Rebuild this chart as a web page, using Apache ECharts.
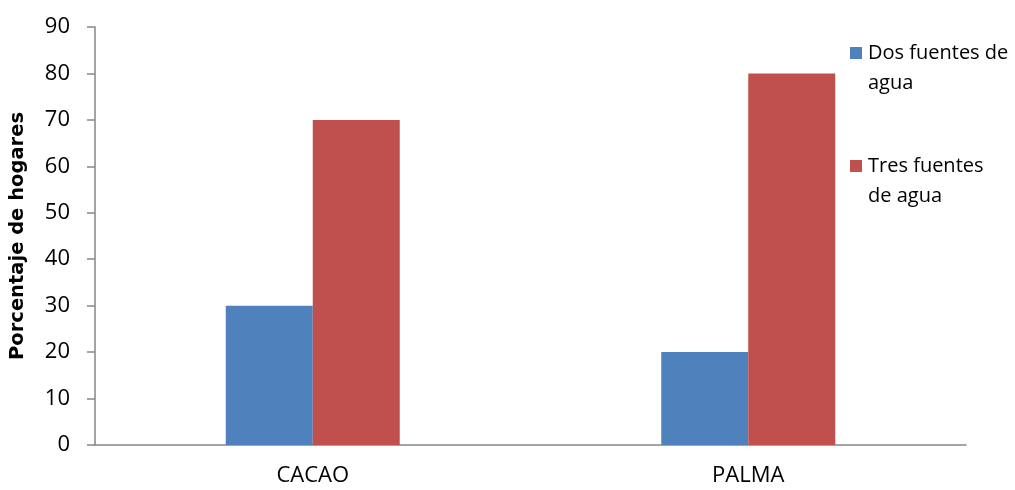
<!DOCTYPE html>
<html><head><meta charset="utf-8">
<script src="https://cdn.jsdelivr.net/npm/echarts@6/dist/echarts.min.js"></script>
<style>html,body{margin:0;padding:0;background:#fff}#c{width:1015px;height:490px}</style>
</head><body><div id="c"></div>
<script>
const categories = ['CACAO', 'PALMA'];
const seriesNames = ['Dos fuentes de agua', 'Tres fuentes de agua'];
const dosFuentes = [30, 20];
const tresFuentes = [70, 80];
const yTicks = [0, 10, 20, 30, 40, 50, 60, 70, 80, 90];

const FONT = 'Open Sans';
const chart = echarts.init(document.getElementById('c'));
const legendText = {
  'Dos fuentes de agua': '{a|}{sp|}{t|Dos fuentes de}\n{pad|}{t|agua}',
  'Tres fuentes de agua': '{b|}{sp|}{t|Tres fuentes}\n{pad|}{t|de agua}'
};
chart.setOption({
  animation: false,
  textStyle: { fontFamily: FONT },
  grid: { left: 95, right: 49, top: 27, bottom: 45, containLabel: false, outerBoundsMode: 'none' },
  legend: {
    orient: 'vertical', left: 845, top: 38, padding: 0,
    itemWidth: 0, itemHeight: 0, itemGap: 53, icon: 'rect',
    selectedMode: false,
    data: seriesNames,
    formatter: n => legendText[n],
    textStyle: {
      color: '#000', fontSize: 20, fontFamily: FONT, lineHeight: 30,
      rich: {
        a: { width: 12, height: 12, backgroundColor: '#4F81BD' },
        b: { width: 12, height: 12, backgroundColor: '#C0504D' },
        sp: { width: 6 },
        pad: { width: 18 },
        t: { fontSize: 20, color: '#000', fontFamily: FONT, lineHeight: 30 }
      }
    }
  },
  xAxis: {
    type: 'category', data: categories,
    axisLine: { lineStyle: { color: '#868686', width: 1.5 } },
    axisTick: { show: false },
    axisLabel: { color: '#000', fontSize: 22, margin: 20, fontFamily: FONT }
  },
  yAxis: {
    type: 'value', min: 0, max: 90, interval: 10,
    name: 'Porcentaje de hogares', nameLocation: 'middle', nameGap: 67,
    nameTextStyle: { color: '#000', fontSize: 19.5, fontWeight: 'bold', fontFamily: 'DejaVu Sans' },
    axisLine: { show: true, lineStyle: { color: '#868686', width: 1.5 } },
    axisTick: { show: true, length: 8, lineStyle: { color: '#868686', width: 1.5 } },
    splitLine: { show: false },
    axisLabel: { color: '#000', fontSize: 22, margin: 25, fontFamily: FONT,
      formatter: v => yTicks.includes(v) ? String(v) : '' }
  },
  series: [
    { name: seriesNames[0], type: 'bar', data: dosFuentes, barWidth: 87, barGap: '0%',
      itemStyle: { color: '#4F81BD' } },
    { name: seriesNames[1], type: 'bar', data: tresFuentes, barWidth: 87, barGap: '0%',
      itemStyle: { color: '#C0504D' } }
  ]
});
</script></body></html>
